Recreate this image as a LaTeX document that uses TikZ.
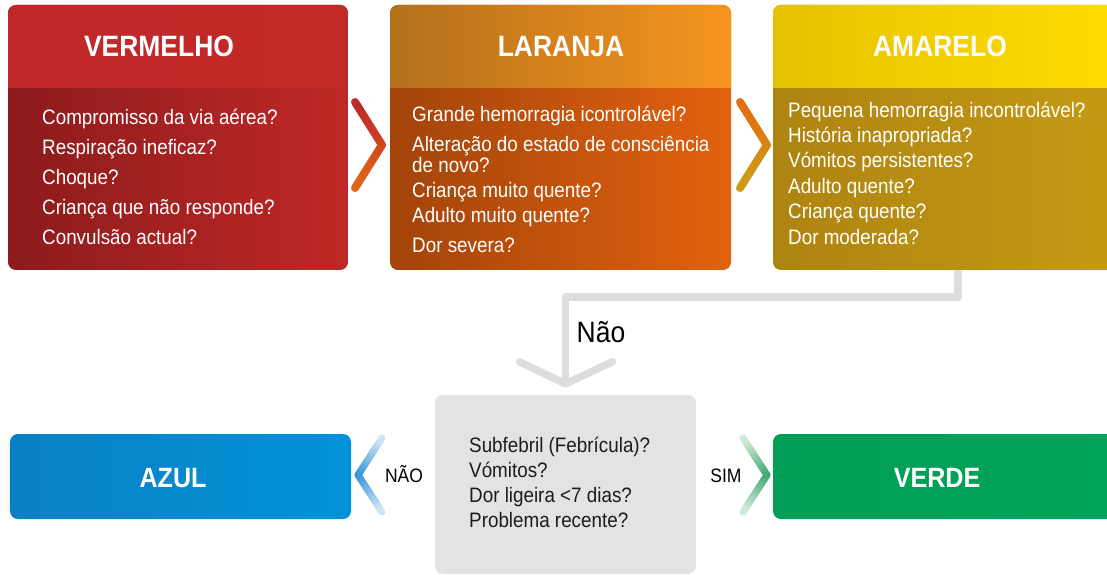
\documentclass[tikz,border=0pt]{standalone}
\usepackage{fontspec}
\setmainfont{Liberation Sans}[FakeStretch=0.9]
\usetikzlibrary{calc}

\definecolor{vermelhoA}{HTML}{8C1B1C}
\definecolor{vermelhoB}{HTML}{BF2826}
\definecolor{vermelhoC}{HTML}{C0272B}
\definecolor{vermelhoD}{HTML}{C22A27}
\definecolor{laranjaA}{HTML}{A3440A}
\definecolor{laranjaB}{HTML}{E2610E}
\definecolor{laranjaC}{HTML}{B3701B}
\definecolor{laranjaD}{HTML}{F7941E}
\definecolor{amareloA}{HTML}{AE8411}
\definecolor{amareloB}{HTML}{C49A14}
\definecolor{amareloC}{HTML}{E6C200}
\definecolor{amareloD}{HTML}{FFDD00}
\definecolor{azulA}{HTML}{0A80C4}
\definecolor{azulB}{HTML}{0092D8}
\definecolor{verdeA}{HTML}{009E57}
\definecolor{verdeB}{HTML}{00A35B}
\definecolor{cinzaA}{HTML}{E3E3E3}
\definecolor{linha}{HTML}{DDDDDD}
\definecolor{texto}{HTML}{1C1C1C}
\definecolor{setaA}{HTML}{C0282A}
\definecolor{setaB}{HTML}{D24520}
\definecolor{setaC}{HTML}{E0661A}
\definecolor{setaD}{HTML}{E46C10}
\definecolor{setaE}{HTML}{D98512}
\definecolor{setaF}{HTML}{CB9C16}
\definecolor{setaG}{HTML}{2A8FD5}
\definecolor{setaH}{HTML}{D4E8F5}
\definecolor{setaI}{HTML}{35A468}
\definecolor{setaJ}{HTML}{D6ECDF}

\begin{document}
\begin{tikzpicture}[x=1bp,y=-1bp,
  titulo/.style={text=white,font=\fontsize{29.5}{30}\selectfont\bfseries,anchor=base,inner sep=0},
  item/.style={text=white,font=\fontsize{21}{25}\selectfont,anchor=base west,inner sep=0},
  resposta/.style={text=black,font=\fontsize{19.5}{20}\selectfont,anchor=base,inner sep=0},
  conector/.style={linha,line width=7.5bp,line cap=round,line join=round}]
\useasboundingbox[fill=white] (0,0) rectangle (1107,575);

\node[fill=cinzaA,rounded corners=8,minimum width=261bp,minimum height=179bp,inner sep=0] (cinza) at (565.5,484.5) {};
\coordinate (amarelo-saida) at (958,262);
\coordinate (ponta) at ($(cinza.north)+(0,-11)$);
\draw[conector] (amarelo-saida) -- ++(0,35) -| (ponta);
\draw[conector] ($(ponta)+(-46,-22)$) -- (ponta) -- ($(ponta)+(47,-22)$);
\node[text=black,font=\fontsize{29.5}{30}\selectfont,anchor=base,inner sep=0] (nao) at (601,342) {Não};

\foreach \l/\r/\ca/\cb/\cc/\cd in {8/348/vermelhoA/vermelhoB/vermelhoC/vermelhoD,390/731/laranjaA/laranjaB/laranjaC/laranjaD,773/1120/amareloA/amareloB/amareloC/amareloD}{
  \begin{scope}
    \clip[rounded corners=8] (\l,5) rectangle (\r,270);
    \shade[left color=\ca,right color=\cb] (\l,5) rectangle (\r,270);
    \shade[left color=\cc,right color=\cd] (\l,5) rectangle (\r,88);
  \end{scope}
}

\node[titulo] (vermelho) at (159,57) {VERMELHO};
\node[titulo] (laranja) at (561,57) {LARANJA};
\node[titulo] (amarelo) at (940,57) {AMARELO};

\foreach \y/\t [count=\i] in {125/Compromisso da via aérea?,155/Respiração ineficaz?,185/Choque?,215/Criança que não responde?,245/Convulsão actual?}
  \node[item] (vermelho-\i) at (42,\y) {\t};
\foreach \y/\t [count=\i] in {122/Grande hemorragia icontrolável?,152/Alteração do estado de consciência,173/de novo?,198/Criança muito quente?,223/Adulto muito quente?,253/Dor severa?}
  \node[item] (laranja-\i) at (412,\y) {\t};
\foreach \y/\t [count=\i] in {118/Pequena hemorragia incontrolável?,143/História inapropriada?,168/Vómitos persistentes?,194/Adulto quente?,219/Criança quente?,245/Dor moderada?}
  \node[item] (amarelo-\i) at (788,\y) {\t};
\foreach \y/\t [count=\i] in {452/Subfebril (Febrícula)?,477/Vómitos?,502/Dor ligeira <7 dias?,527/Problema recente?}
  \node[item,text=texto] (cinza-\i) at (469,\y) {\t};

\node[left color=azulA,right color=azulB,rounded corners=8,minimum width=341bp,minimum height=85bp,inner sep=0] (azul) at (180.5,476.5) {};
\node[left color=verdeA,right color=verdeB,rounded corners=8,minimum width=348bp,minimum height=85bp,inner sep=0] (verde) at (947,476.5) {};
\node[titulo,font=\fontsize{28}{30}\selectfont\bfseries] (azul-texto) at (173,487) {AZUL};
\node[titulo,font=\fontsize{28}{30}\selectfont\bfseries] (verde-texto) at (937,487) {VERDE};
\node[resposta] (nao-azul) at (404,482) {NÃO};
\node[resposta] (sim-verde) at (726,482) {SIM};

\foreach \x/\y/\dx/\dy/\ct/\cm/\cb/\w in {382/145/-27/43/setaA/setaB/setaC/8,767/145/-27/43/setaD/setaE/setaF/8,358/475/24/37/setaH/setaG/setaH/7,767/475/-24/37/setaJ/setaI/setaJ/7}
  \foreach \i in {0,...,11}{
    \pgfmathsetmacro{\ta}{\i/12}
    \pgfmathsetmacro{\tb}{(\i+1)/12}
    \pgfmathsetmacro{\pc}{100-100*(\i+.5)/12}
    \draw[color=\cm!\pc!\ct,line width=\w,line cap=round] ({\x+\ta*\dx},{\y-\ta*\dy}) -- ({\x+\tb*\dx},{\y-\tb*\dy});
    \draw[color=\cm!\pc!\cb,line width=\w,line cap=round] ({\x+\ta*\dx},{\y+\ta*\dy}) -- ({\x+\tb*\dx},{\y+\tb*\dy});
  }
\end{tikzpicture}
\end{document}
